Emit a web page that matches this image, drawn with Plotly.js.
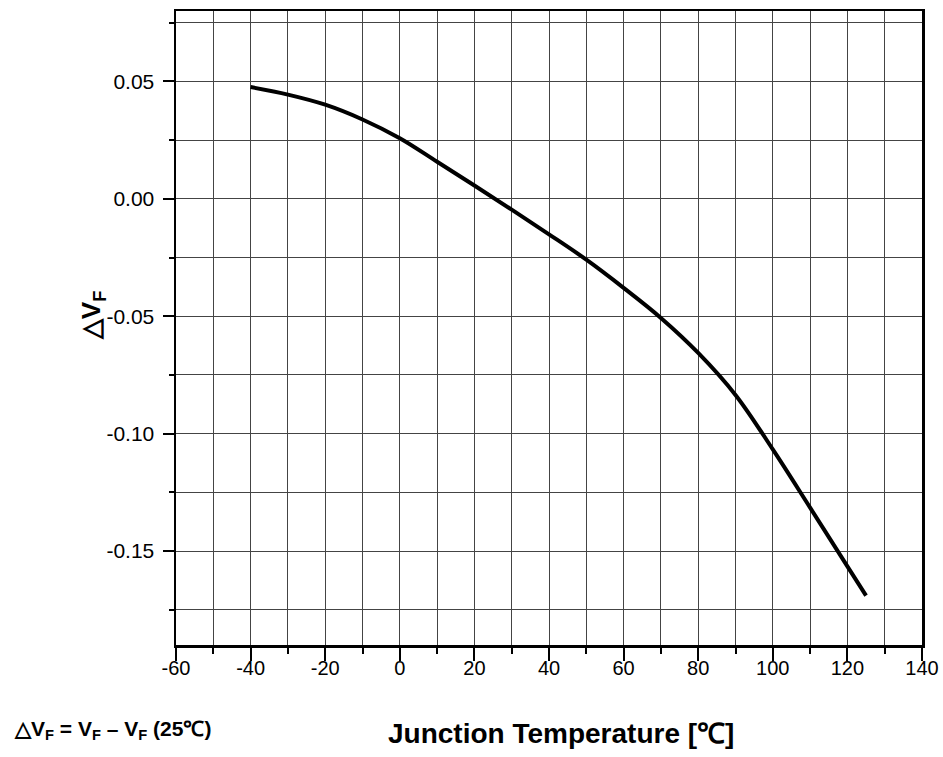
<!DOCTYPE html>
<html>
<head>
<meta charset="utf-8">
<script src="https://cdn.plot.ly/plotly-3.0.1.min.js"></script>
<style>html,body{margin:0;padding:0;background:#fff;}</style>
</head>
<body>
<div id="chart" style="width:943px;height:757px;"></div>
<script>
const temps = [-40, -30, -20, -10, 0, 10, 20, 30, 40, 50, 60, 70, 80, 90, 100, 110, 120, 125];
const dvf = [0.0476, 0.0444, 0.0401, 0.0338, 0.0258, 0.0158, 0.0057, -0.0046, -0.0151, -0.0259, -0.0379, -0.0507, -0.0656, -0.0835, -0.1067, -0.1315, -0.1565, -0.169];
const yTickVals = [0.05, 0.00, -0.05, -0.10, -0.15];
const yTickText = ["0.05", "0.00", "-0.05", "-0.10", "-0.15"];
const xTickVals = [-60, -40, -20, 0, 20, 40, 60, 80, 100, 120, 140];
const xTickText = ["-60", "-40", "-20", "0", "20", "40", "60", "80", "100", "120", "140"];

const font = "Liberation Sans, Arial, sans-serif";
const trace = {
  x: temps, y: dvf, mode: "lines", type: "scatter",
  line: {color: "#000", width: 4, shape: "spline", smoothing: 1},
  hoverinfo: "skip"
};
const gridColor = "#444";
const layout = {
  width: 943, height: 757,
  margin: {l: 176, r: 21, t: 11, b: 112},
  paper_bgcolor: "#fff", plot_bgcolor: "#fff",
  showlegend: false,
  font: {family: font, color: "#000", size: 21},
  xaxis: {
    range: [-60, 140], tickmode: "array", tickvals: xTickVals, ticktext: xTickText,
    ticks: "outside", ticklen: 13, tickwidth: 2, tickcolor: "#000",
    showline: true, linecolor: "#000", linewidth: 2.5, mirror: true,
    showgrid: true, gridcolor: gridColor, gridwidth: 1,
    zeroline: false,
    tickfont: {family: font, size: 20, color: "#000"},
    ticklabelstandoff: -10,
    minor: {dtick: 10, tick0: 0, ticks: "outside", ticklen: 6, tickwidth: 2, tickcolor: "#000", showgrid: true, gridcolor: gridColor, gridwidth: 1}
  },
  yaxis: {
    range: [-0.19, 0.08], tickmode: "array", tickvals: yTickVals, ticktext: yTickText,
    ticks: "outside", ticklen: 11, tickwidth: 2, tickcolor: "#000",
    showline: true, linecolor: "#000", linewidth: 2.5, mirror: true,
    showgrid: true, gridcolor: gridColor, gridwidth: 1,
    zeroline: false,
    tickfont: {family: font, size: 21, color: "#000"},
    ticklabelstandoff: 4,
    minor: {dtick: 0.025, tick0: 0, ticks: "outside", ticklen: 5, tickwidth: 2, tickcolor: "#000", showgrid: true, gridcolor: gridColor, gridwidth: 1}
  },
  annotations: [
    {text: "<b>△V<sub>F</sub></b>", xref: "paper", yref: "paper", x: -0.111, y: 0.519,
     textangle: -90, showarrow: false, xanchor: "center", yanchor: "middle",
     font: {family: font, size: 26, color: "#000"}},
    {text: "<b>Junction Temperature [℃]</b>", xref: "paper", yref: "paper", x: 0.516, y: -0.14,
     showarrow: false, xanchor: "center", yanchor: "middle",
     font: {family: font, size: 28, color: "#000"}},
    {text: "<b>△V<sub>F</sub> = V<sub>F</sub> – V<sub>F</sub> (25℃)</b>", xref: "paper", yref: "paper", x: -0.2198, y: -0.134,
     showarrow: false, xanchor: "left", yanchor: "middle",
     font: {family: font, size: 21, color: "#000"}}
  ]
};
Plotly.newPlot("chart", [trace], layout, {staticPlot: true, displayModeBar: false});
</script>
</body>
</html>
